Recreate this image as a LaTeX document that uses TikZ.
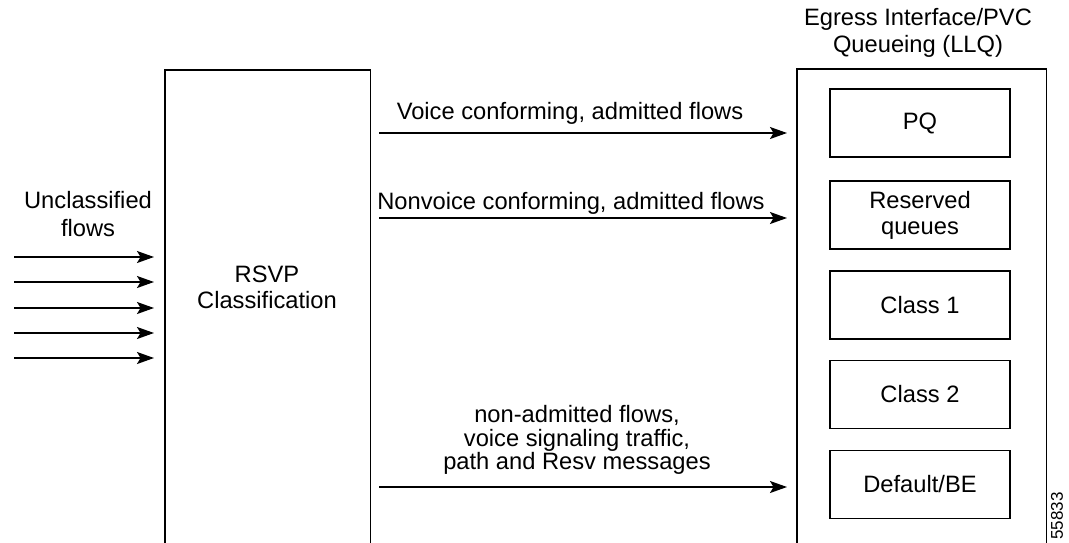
\documentclass[tikz,border=0pt]{standalone}
\usepackage{fontspec}
\setmainfont{Liberation Sans}
\usetikzlibrary{arrows.meta}

\tikzset{
    flow/.style={line width=1.3pt, -{Stealth[length=17pt, width=12pt, inset=3.5pt]}},
    frame/.style={line width=1.3pt},
    queue/.style={draw, line width=1.3pt, minimum width=180pt, minimum height=68pt, align=center},
    label/.style={align=center, inner sep=0pt},
}

\begin{document}
\begin{tikzpicture}[x=1pt, y=-1pt, font=\fontsize{23.7}{27}\selectfont]
        \clip (0, 0) rectangle (1069, 542);

        % Left side
        \node[label, font=\fontsize{23.7}{28}\selectfont] (unclass) at (88, 214) {Unclassified\\flows};
        \node (rsvp) [minimum width=205pt, minimum height=500pt, anchor=north west, inner sep=0pt] at (165, 70) {};
        \draw[frame] (rsvp.south west) -- (rsvp.north west) -- (rsvp.north east) -- (rsvp.south east);
        \node[label, font=\fontsize{23.7}{26}\selectfont] (rsvptext) at (267, 287) {RSVP\\Classification};
        \foreach \i/\y in {1/257, 2/282, 3/308, 4/333, 5/358}
            {
            \coordinate (in\i) at (14, \y);
            \draw[flow, shorten >=11pt] (in\i) -- (in\i -| rsvp.west);
            }

        % Right side
        \node (llq) [minimum width=249pt, minimum height=500pt, anchor=north west, inner sep=0pt] at (797, 69) {};
        \draw[frame] (llq.south west) -- (llq.north west) -- (llq.north east) -- (llq.south east);
        \node[label] (egress) at (918, 33) {Egress Interface/PVC\\Queueing (LLQ)};
        \node[queue] (pq) at (920, 123) {PQ};
        \node[queue, font=\fontsize{23.7}{26}\selectfont] (resq) at (920, 215) {Reserved\\queues};
        \node[queue] (cls1) at (920, 305) {Class 1};
        \node[queue] (cls2) at (920, 394.5) {Class 2};
        \node[queue] (dflt) at (920, 484.5) {Default/BE};
        \node[label, rotate=90, font=\fontsize{17}{20}\selectfont] (fignum) at (1057, 516) {55833};

        % Middle flows
        \coordinate (voice) at (379, 133);
        \coordinate (nonvoice) at (379, 218);
        \coordinate (other) at (379, 487);
        \draw[flow, shorten >=10pt] (voice) -- (voice -| llq.west);
        \draw[flow, shorten >=10pt] (nonvoice) -- (nonvoice -| llq.west);
        \draw[flow, shorten >=10pt] (other) -- (other -| llq.west);
        \node[label] (voicetext) at (570, 113) {Voice conforming, admitted flows};
        \node[label] (nonvoicetext) at (571, 203) {Nonvoice conforming, admitted flows};
        \node[label, font=\fontsize{23.7}{23.5}\selectfont] (othertext) at (577, 440) {non-admitted flows,\\voice signaling traffic,\\path and Resv messages};
    \end{tikzpicture}
\end{document}
